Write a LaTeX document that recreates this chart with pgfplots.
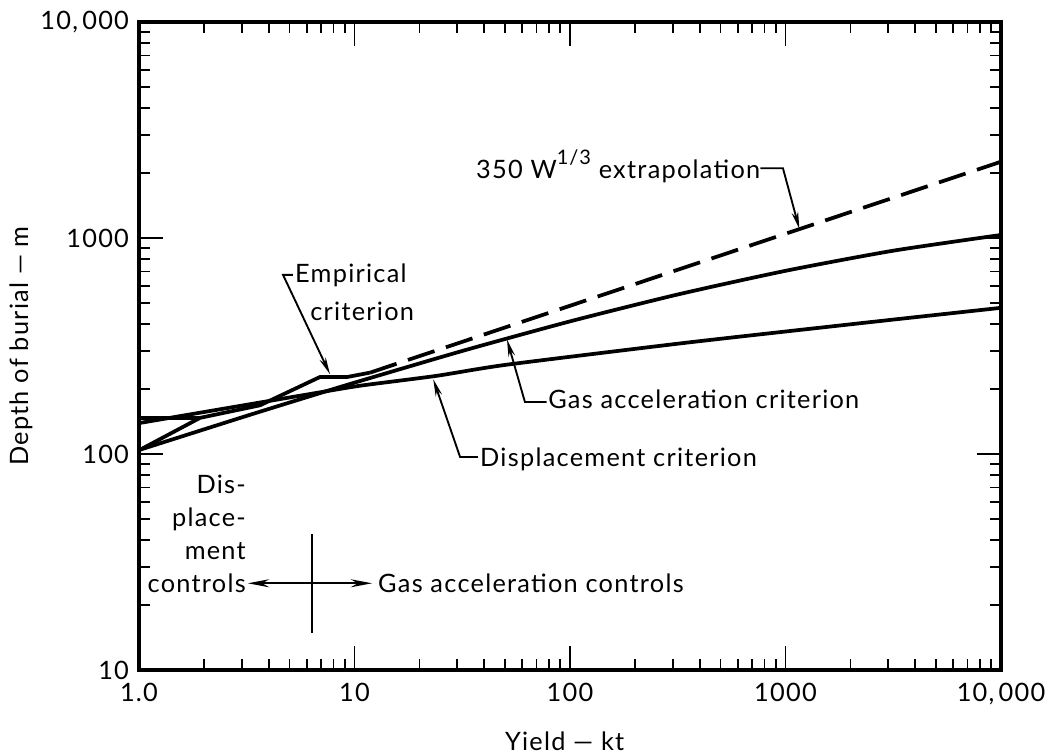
\documentclass[border=0pt]{standalone}
\usepackage{pgfplots}
\pgfplotsset{compat=1.18}
\usepackage{fontspec}
\setmainfont{Lato}[LetterSpace=5]
\usetikzlibrary{arrows.meta}
\newcommand{\tf}{\fontsize{19}{23}\selectfont}
\begin{document}
\begin{tikzpicture}
\begin{axis}[name=ax, xmode=log, ymode=log, scale only axis,
  width=646.5pt, height=486pt,
  xmin=1, xmax=10000, ymin=10, ymax=10000,
  xtick={1,10,100,1000,10000}, xticklabels={1.0,10,100,1000,{10,\,000}},
  ytick={10,100,1000,10000}, yticklabels={10,100,1000,{10,\,000}},
  tick align=inside, major tick length=18pt, minor tick length=8.5pt,
  every tick/.style={black, line width=1.3pt},
  axis line style={line width=2.4pt},
  tick label style={font=\tf},
  xticklabel style={yshift=-6pt},
  yticklabel style={xshift=-4pt},
  clip=false]
% displacement criterion
\addplot[black, line width=2.8pt, smooth, tension=0.4] coordinates {
 (1,139) (3.16,169) (6.31,190) (10.6,207) (24.0,230) (50.8,259) (316,324) (1000,369) (3162,419) (10000,475)};
% gas acceleration criterion
\addplot[black, line width=2.8pt, smooth, tension=0.4] coordinates {
 (1,104.3) (3.162,150.2) (6.31,186.0) (10,213.9) (31.62,299.9) (100,411.1) (316.2,547.6) (1000,704.7) (3162,873.3) (10000,1032.7)};
% empirical criterion
\addplot[black, line width=2.8pt] coordinates {
 (1,104) (1.92,147) (3.64,168) (6.9,227) (9.2,227) (11.8,238)};
\addplot[black, line width=2.8pt] coordinates {(1,147) (1.92,147)};
% 350 W^1/3 extrapolation
\addplot[black, line width=2.8pt, dash pattern=on 21pt off 9pt] coordinates {
 (11.8,238) (10000,2255)};
% annotations
\node[anchor=base west, inner sep=0, font=\tf] at (axis cs:36.6,1888) {350 W\raisebox{0.55em}{\fontsize{15}{15}\selectfont 1/3} extrapolation};
\draw[line width=1.4pt, -{Stealth[length=13pt,width=5pt]}] (axis cs:765,2104) -- (axis cs:973,2104) -- (axis cs:1160,1100);
\node[anchor=base west, inner sep=0, font=\tf] at (axis cs:5.29,621) {Empirical};
\node[anchor=base west, inner sep=0, font=\tf] at (axis cs:6.22,414) {criterion};
\draw[line width=1.4pt, -{Stealth[length=13pt,width=5pt]}] (axis cs:5.18,675) -- (axis cs:4.66,675) -- (axis cs:7.7,234);
\node[anchor=base west, inner sep=0, font=\tf] at (axis cs:79.1,163) {Gas acceleration criterion};
\draw[line width=1.4pt, -{Stealth[length=13pt,width=5pt]}] (axis cs:78,174) -- (axis cs:61.8,174) -- (axis cs:51,339);
\node[anchor=base west, inner sep=0, font=\tf] at (axis cs:38.2,87.1) {Displacement criterion};
\draw[line width=1.4pt, -{Stealth[length=13pt,width=5pt]}] (axis cs:37.4,96.9) -- (axis cs:30.9,96.9) -- (axis cs:23.2,222);
\node[anchor=base east, inner sep=0, font=\tf] at (axis cs:3.14,65.5) {Dis-};
\node[anchor=base east, inner sep=0, font=\tf] at (axis cs:3.14,46.1) {place-};
\node[anchor=base east, inner sep=0, font=\tf] at (axis cs:3.14,32.5) {ment};
\node[anchor=base east, inner sep=0, font=\tf] at (axis cs:3.14,22.9) {controls};
\draw[line width=1.4pt, {Stealth[length=16pt,width=6pt]}-{Stealth[length=16pt,width=6pt]}] (axis cs:3.2,25.2) -- (axis cs:12.06,25.2);
\draw[line width=1.4pt] (axis cs:6.35,14.8) -- (axis cs:6.35,42.8);
\node[anchor=base west, inner sep=0, font=\tf] at (axis cs:12.85,22.9) {Gas acceleration controls};
\end{axis}
\node[font=\tf] at ([xshift=-4pt,yshift=-53.25pt]ax.south) {Yield --- kt};
\node[font=\tf, rotate=90] at ([xshift=-88.5pt]ax.west) {Depth of burial --- m};
\pgfresetboundingbox
\path ([xshift=-104.25pt,yshift=-63.75pt]ax.south west) rectangle ([xshift=37.5pt,yshift=16.5pt]ax.north east);
\end{tikzpicture}
\end{document}
